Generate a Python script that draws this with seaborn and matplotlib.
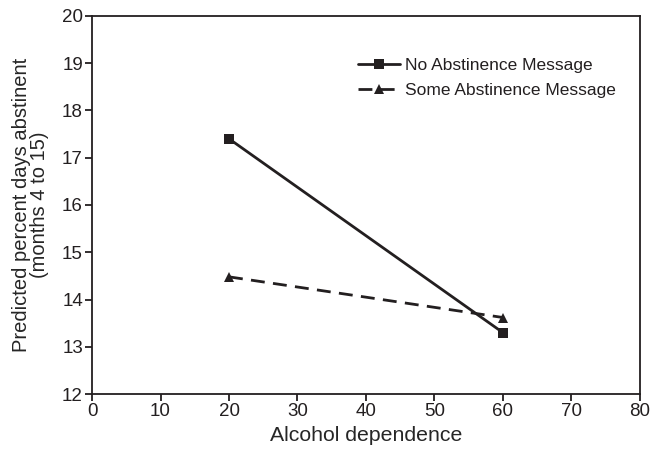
import matplotlib
matplotlib.use("Agg")
import matplotlib.pyplot as plt
import seaborn as sns
import pandas as pd

dependence = [20, 60]
no_msg = [17.4, 13.3]
some_msg = [14.48, 13.62]
groups = ["No Abstinence Message", "Some Abstinence Message"]

df = pd.DataFrame({
    "x": dependence * 2,
    "y": no_msg + some_msg,
    "group": [groups[0]] * 2 + [groups[1]] * 2,
})

sns.set_theme(style="ticks")
plt.rcParams["font.family"] = ["Liberation Sans", "DejaVu Sans"]

fig = plt.figure(figsize=(6.55, 4.53), dpi=100)
ax = fig.add_axes([0.1405, 0.130, 0.8365, 0.835])

sns.lineplot(data=df, x="x", y="y", hue="group", style="group",
             markers={groups[0]: "s", groups[1]: "^"},
             dashes={groups[0]: "", groups[1]: (5, 3)},
             palette={groups[0]: "#231f20", groups[1]: "#231f20"},
             markersize=6.5, linewidth=2, markeredgewidth=0, ax=ax)

ax.set_xlim(0, 80)
ax.set_ylim(12, 20)
ax.set_xticks(range(0, 81, 10))
ax.set_yticks(range(12, 21))
ax.set_xlabel("Alcohol dependence", fontsize=15.3, labelpad=4)
ax.set_ylabel("Predicted percent days abstinent\n(months 4 to 15)", fontsize=14.5,
              linespacing=0.95, labelpad=9)
ax.tick_params(axis="both", direction="out", length=5, width=1.3, labelsize=13.5,
               colors="#231f20", pad=1.5)
for s in ax.spines.values():
    s.set_linewidth(1.3)
    s.set_color("#231f20")

leg = ax.legend(loc="upper right", bbox_to_anchor=(0.985, 0.93), frameon=False,
                fontsize=12.5, handlelength=2.4, handletextpad=0.3, labelspacing=0.55)
for t in leg.get_texts():
    t.set_color("#231f20")

fig.savefig("out.png", dpi=100)
